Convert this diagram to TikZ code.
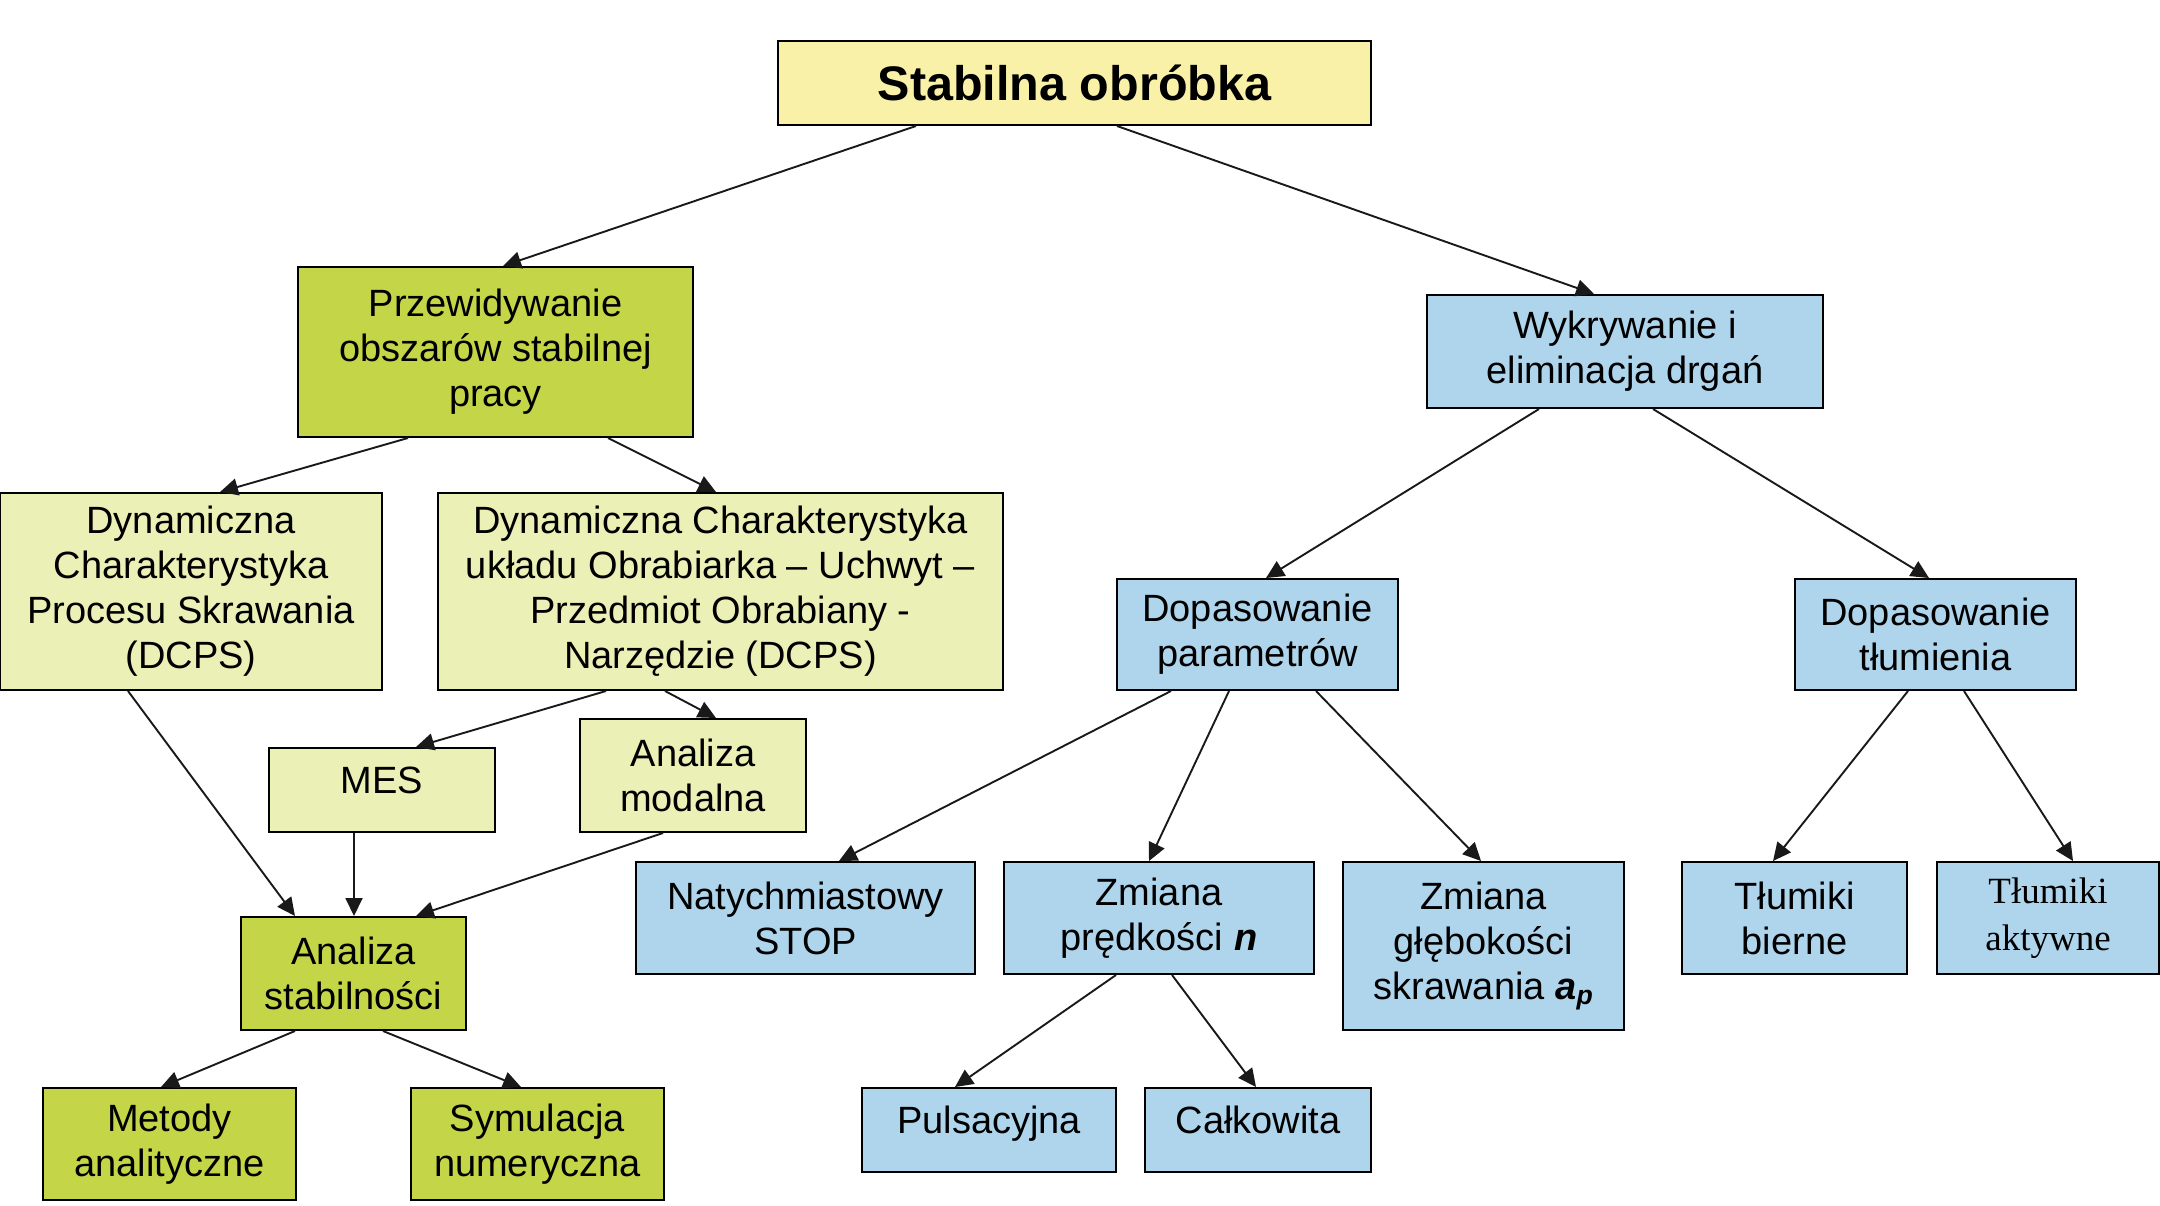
\documentclass[tikz,border=0pt]{standalone}
\usepackage{fontspec}
\setmainfont{Liberation Sans}
\newfontfamily\timesfont{Liberation Serif}
\usetikzlibrary{arrows.meta}
\definecolor{rootfill}{RGB}{250,241,168}
\definecolor{greenfill}{RGB}{196,214,72}
\definecolor{palefill}{RGB}{234,240,182}
\definecolor{bluefill}{RGB}{175,213,237}
\begin{document}
\begin{tikzpicture}[x=1pt,y=-1pt,
  box/.style={draw=black, line width=2pt, align=center, inner sep=0pt,
    font=\fontsize{38}{45}\selectfont},
  rootbox/.style={box, fill=rootfill, font=\fontsize{48.5}{55}\selectfont\bfseries},
  gbox/.style={box, fill=greenfill},
  pbox/.style={box, fill=palefill},
  bbox/.style={box, fill=bluefill},
  raised/.style={text height=27pt, text depth=20pt},
  conn/.style={line width=1.9pt, draw=black!90, -{Triangle[length=18pt,width=17pt]}}
]
\useasboundingbox (0,0) rectangle (2160,1205);

% nodes
\node[rootbox, minimum width=593pt, minimum height=84pt] (root) at (1074.5,83) {Stabilna obróbka};

\node[gbox, minimum width=395pt, minimum height=170pt] (prz) at (495.5,352) {Przewidywanie\\obszarów stabilnej\\pracy};
\node[bbox, minimum width=396pt, minimum height=113pt] (wyk) at (1625,351.5) {Wykrywanie i\\eliminacja drgań};

\node[pbox, minimum width=382pt, minimum height=197pt] (dcps1) at (191,591.5) {Dynamiczna\\Charakterystyka\\Procesu Skrawania\\(DCPS)};
\node[pbox, minimum width=565pt, minimum height=197pt] (dcps2) at (720.5,591.5) {Dynamiczna Charakterystyka\\układu Obrabiarka – Uchwyt –\\Przedmiot Obrabiany -\\Narzędzie (DCPS)};

\node[pbox, raised, minimum width=226pt, minimum height=84pt] (mes) at (382,790) {MES};
\node[pbox, minimum width=226pt, minimum height=113pt] (modal) at (693,775.5) {Analiza\\modalna};

\node[gbox, minimum width=225pt, minimum height=113pt] (stab) at (353.5,973.5) {Analiza\\stabilności};
\node[gbox, minimum width=253pt, minimum height=112pt] (metody) at (169.5,1144) {Metody\\analityczne};
\node[gbox, minimum width=253pt, minimum height=112pt] (sym) at (537.5,1144) {Symulacja\\numeryczna};

\node[bbox, minimum width=281pt, minimum height=111pt] (dpar) at (1257.5,634.5) {Dopasowanie\\parametrów};
\node[bbox, minimum width=281pt, minimum height=111pt] (dtl) at (1935.5,634.5) {Dopasowanie\\tłumienia};

\node[bbox, minimum width=339pt, minimum height=112pt] (stop) at (805.5,918) {Natychmiastowy\\STOP};
\node[bbox, minimum width=310pt, minimum height=112pt] (zpr) at (1159,918) {Zmiana\\prędkości \textbf{\textit{n}}};
\node[bbox, minimum width=281pt, minimum height=168pt] (zgl) at (1483.5,946) {Zmiana\\głębokości\\skrawania \textbf{\textit{a\textsubscript{p}}}};

\node[bbox, minimum width=225pt, minimum height=112pt] (tb) at (1794.5,918) {Tłumiki\\bierne};
\node[bbox, minimum width=222pt, minimum height=112pt,
      font=\fontsize{37}{47}\selectfont\timesfont] (ta) at (2048,918) {Tłumiki\\aktywne};

\node[bbox, raised, minimum width=254pt, minimum height=84pt] (puls) at (989,1130) {Pulsacyjna};
\node[bbox, raised, minimum width=226pt, minimum height=84pt] (calk) at (1258,1130) {Całkowita};

% connectors
\draw[conn] ([xshift=-158.5pt]root.south) -- ([xshift=7.5pt]prz.north);
\draw[conn] ([xshift=42.5pt]root.south) -- ([xshift=-31pt]wyk.north);

\draw[conn] ([xshift=-87.5pt]prz.south) -- ([xshift=29pt]dcps1.north);
\draw[conn] ([xshift=112.5pt]prz.south) -- ([xshift=-4.5pt]dcps2.north);

\draw[conn] ([xshift=-114.5pt]dcps2.south) -- ([xshift=34pt]mes.north);
\draw[conn] ([xshift=-55.5pt]dcps2.south) -- ([xshift=23pt]modal.north);

\draw[conn] ([xshift=-63pt]dcps1.south) -- ([xshift=-58.5pt]stab.north);
\draw[conn] ([xshift=-28pt]mes.south) -- ([xshift=0.5pt]stab.north);
\draw[conn] ([xshift=-30pt]modal.south) -- ([xshift=62.5pt]stab.north);

\draw[conn] ([xshift=-58.5pt]stab.south) -- ([xshift=-8.5pt]metody.north);
\draw[conn] ([xshift=29.5pt]stab.south) -- ([xshift=-16.5pt]sym.north);

\draw[conn] ([xshift=-86pt]wyk.south) -- ([xshift=8.5pt]dpar.north);
\draw[conn] ([xshift=28pt]wyk.south) -- ([xshift=-6.5pt]dtl.north);

\draw[conn] ([xshift=-86.5pt]dpar.south) -- ([xshift=33.5pt]stop.north);
\draw[conn] ([xshift=-28.5pt]dpar.south) -- ([xshift=-10pt]zpr.north);
\draw[conn] ([xshift=58.5pt]dpar.south) -- ([xshift=-2.5pt]zgl.north);

\draw[conn] ([xshift=-27.5pt]dtl.south) -- ([xshift=-21.5pt]tb.north);
\draw[conn] ([xshift=28.5pt]dtl.south) -- ([xshift=25pt]ta.north);

\draw[conn] ([xshift=-43pt]zpr.south) -- ([xshift=-34pt]puls.north);
\draw[conn] ([xshift=13pt]zpr.south) -- ([xshift=-2pt]calk.north);
\end{tikzpicture}
\end{document}
